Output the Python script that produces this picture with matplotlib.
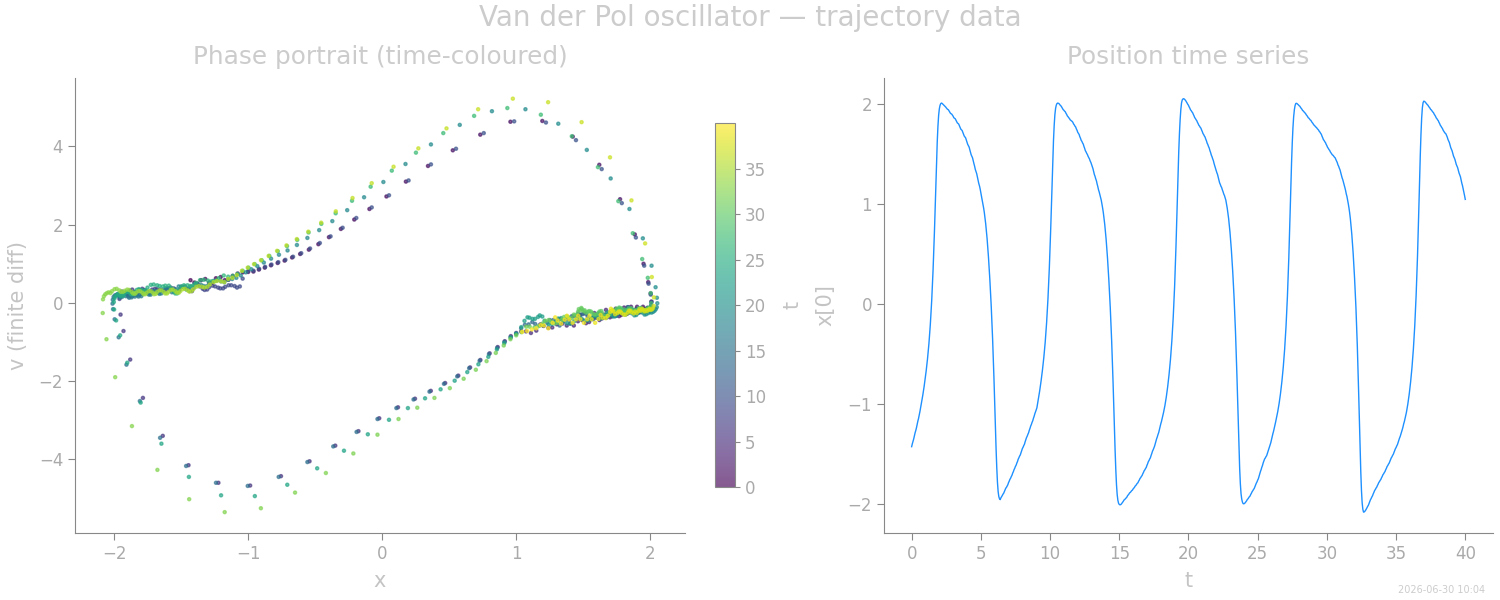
import numpy as np
import matplotlib.pyplot as plt

# x(t) read off the time-series panel, sampled every 0.05 from t=0 to t=40
# slow parts (s_ / d_ / u_) and fast jumps (r_ / f_) kept as separate lists
s_start = [-1.430, -1.401, -1.378, -1.352, -1.320, -1.291, -1.268, -1.240, -1.205, -1.174,
           -1.147, -1.115, -1.078, -1.040]
r_1 = [-1.000, -0.961, -0.920, -0.876, -0.830, -0.780, -0.728, -0.672, -0.612, -0.547,
       -0.476, -0.397, -0.308, -0.208, -0.095, 0.032, 0.177, 0.342, 0.527, 0.732,
       0.957, 1.195, 1.422, 1.620, 1.775, 1.885, 1.950, 1.985, 2.003]
d_1 = [2.009, 2.006, 1.999, 1.991, 1.984, 1.978, 1.971, 1.962, 1.953, 1.946,
       1.943, 1.932, 1.922, 1.908, 1.902, 1.898, 1.887, 1.877, 1.862, 1.857,
       1.852, 1.839, 1.827, 1.811, 1.805, 1.799, 1.783, 1.768, 1.749, 1.742,
       1.734, 1.716, 1.700, 1.679, 1.670, 1.661, 1.640, 1.621, 1.596, 1.583,
       1.570, 1.544, 1.521, 1.492, 1.477, 1.461, 1.430, 1.403, 1.377, 1.345,
       1.324, 1.303, 1.269, 1.240, 1.205, 1.181, 1.150, 1.110, 1.073, 1.037]
f_1 = [1.000, 0.960, 0.915, 0.862, 0.802, 0.733, 0.656, 0.568, 0.470, 0.363,
       0.245, 0.118, -0.022, -0.177, -0.350, -0.542, -0.755, -0.985, -1.222, -1.445,
       -1.637, -1.785, -1.880, -1.930, -1.952, -1.960]
u_1 = [-1.942, -1.931, -1.919, -1.905, -1.896, -1.880, -1.865, -1.846, -1.837, -1.823,
       -1.811, -1.790, -1.775, -1.757, -1.746, -1.729, -1.716, -1.695, -1.680, -1.660,
       -1.646, -1.627, -1.615, -1.594, -1.578, -1.555, -1.541, -1.524, -1.513, -1.491,
       -1.472, -1.449, -1.436, -1.419, -1.406, -1.381, -1.361, -1.339, -1.325, -1.306,
       -1.291, -1.266, -1.247, -1.224, -1.208, -1.187, -1.171, -1.146, -1.126, -1.101,
       -1.083, -1.062, -1.041]
r_2 = [-1.000, -0.960, -0.918, -0.873, -0.826, -0.775, -0.722, -0.665, -0.604, -0.538,
       -0.465, -0.385, -0.295, -0.193, -0.078, 0.051, 0.197, 0.364, 0.551, 0.758,
       0.985, 1.222, 1.446, 1.638, 1.788, 1.893, 1.955, 1.988, 2.004]
d_2 = [2.009, 2.007, 2.003, 1.994, 1.985, 1.979, 1.967, 1.957, 1.943, 1.937,
       1.928, 1.922, 1.907, 1.896, 1.880, 1.873, 1.862, 1.855, 1.842, 1.836,
       1.831, 1.825, 1.816, 1.800, 1.791, 1.778, 1.770, 1.751, 1.737, 1.717,
       1.706, 1.695, 1.673, 1.657, 1.636, 1.626, 1.610, 1.598, 1.575, 1.556,
       1.533, 1.521, 1.505, 1.494, 1.476, 1.463, 1.449, 1.429, 1.415, 1.395,
       1.372, 1.353, 1.324, 1.295, 1.276, 1.251, 1.232, 1.200, 1.174, 1.142,
       1.120, 1.093, 1.065, 1.037]
f_2 = [1.000, 0.958, 0.912, 0.858, 0.797, 0.727, 0.649, 0.560, 0.461, 0.353,
       0.234, 0.106, -0.035, -0.191, -0.365, -0.558, -0.772, -1.003, -1.240, -1.463,
       -1.657, -1.808, -1.908, -1.966, -1.996, -2.008]
u_2 = [-2.012, -2.010, -2.004, -1.995, -1.985, -1.975, -1.963, -1.958, -1.950, -1.941,
       -1.935, -1.921, -1.912, -1.904, -1.892, -1.888, -1.879, -1.870, -1.865, -1.853,
       -1.845, -1.837, -1.824, -1.818, -1.808, -1.797, -1.791, -1.775, -1.764, -1.748,
       -1.740, -1.727, -1.719, -1.701, -1.688, -1.671, -1.662, -1.648, -1.638, -1.617,
       -1.601, -1.580, -1.569, -1.553, -1.541, -1.518, -1.499, -1.476, -1.461, -1.442,
       -1.426, -1.400, -1.378, -1.351, -1.332, -1.308, -1.289, -1.259, -1.233, -1.202,
       -1.178, -1.149, -1.119, -1.088]
r_3 = [-1.055, -1.018, -0.977, -0.932, -0.883, -0.829, -0.770, -0.706, -0.636, -0.558,
       -0.470, -0.372, -0.261, -0.135, 0.009, 0.174, 0.364, 0.579, 0.819, 1.069,
       1.314, 1.527, 1.705, 1.845, 1.945, 2.010, 2.040, 2.050]
d_3 = [2.053, 2.049, 2.042, 2.033, 2.022, 2.010, 1.997, 1.987, 1.971, 1.958,
       1.941, 1.933, 1.921, 1.913, 1.896, 1.882, 1.864, 1.855, 1.842, 1.833,
       1.816, 1.803, 1.787, 1.779, 1.766, 1.758, 1.739, 1.724, 1.704, 1.694,
       1.679, 1.669, 1.648, 1.631, 1.608, 1.594, 1.574, 1.559, 1.534, 1.514,
       1.489, 1.473, 1.451, 1.433, 1.404, 1.380, 1.352, 1.335, 1.313, 1.295,
       1.266, 1.241, 1.211, 1.195, 1.176, 1.163, 1.140, 1.122, 1.099, 1.084,
       1.062, 1.038]
f_3 = [1.000, 0.959, 0.911, 0.856, 0.792, 0.718, 0.635, 0.541, 0.436, 0.320,
       0.192, 0.051, -0.107, -0.285, -0.485, -0.708, -0.950, -1.202, -1.442, -1.647,
       -1.802, -1.902, -1.955, -1.985, -2.000]
u_3 = [-2.002, -1.998, -1.991, -1.982, -1.972, -1.959, -1.952, -1.942, -1.931, -1.924,
       -1.908, -1.896, -1.880, -1.871, -1.858, -1.849, -1.831, -1.816, -1.796, -1.783,
       -1.765, -1.751, -1.726, -1.705, -1.679, -1.660, -1.636, -1.618, -1.592, -1.574,
       -1.554, -1.544, -1.530, -1.520, -1.498, -1.479, -1.453, -1.434, -1.410, -1.390,
       -1.359, -1.332, -1.300, -1.275, -1.245, -1.219, -1.182, -1.149]
r_4 = [-1.115, -1.080, -1.041, -0.998, -0.951, -0.899, -0.842, -0.779, -0.710, -0.634,
       -0.549, -0.454, -0.347, -0.225, -0.086, 0.072, 0.252, 0.456, 0.686, 0.934,
       1.184, 1.415, 1.610, 1.762, 1.870, 1.940, 1.982, 2.004]
d_4 = [2.007, 2.003, 1.997, 1.990, 1.982, 1.977, 1.965, 1.956, 1.947, 1.934,
       1.930, 1.921, 1.912, 1.907, 1.894, 1.885, 1.876, 1.863, 1.858, 1.849,
       1.840, 1.835, 1.822, 1.813, 1.804, 1.791, 1.786, 1.777, 1.769, 1.765,
       1.754, 1.747, 1.739, 1.726, 1.719, 1.706, 1.697, 1.677, 1.662, 1.643,
       1.635, 1.622, 1.613, 1.596, 1.583, 1.566, 1.557, 1.544, 1.536, 1.521,
       1.511, 1.502, 1.490, 1.486, 1.477, 1.467, 1.461, 1.444, 1.430, 1.414,
       1.391, 1.377, 1.357, 1.341, 1.314, 1.290, 1.261, 1.242, 1.217, 1.196,
       1.164, 1.136, 1.101, 1.075, 1.040]
f_4 = [1.000, 0.957, 0.907, 0.848, 0.779, 0.699, 0.608, 0.505, 0.390, 0.262,
       0.122, -0.035, -0.215, -0.420, -0.650, -0.905, -1.175, -1.440, -1.677, -1.867,
       -1.992, -2.057, -2.085]
u_4 = [-2.083, -2.076, -2.066, -2.054, -2.041, -2.027, -2.016, -1.997, -1.981, -1.961,
       -1.949, -1.933, -1.921, -1.902, -1.887, -1.869, -1.859, -1.845, -1.836, -1.819,
       -1.806, -1.789, -1.780, -1.767, -1.758, -1.741, -1.728, -1.711, -1.702, -1.689,
       -1.679, -1.661, -1.647, -1.629, -1.619, -1.605, -1.595, -1.577, -1.562, -1.543,
       -1.532, -1.517, -1.506, -1.487, -1.471, -1.451, -1.439, -1.422, -1.409, -1.387,
       -1.368, -1.344, -1.327, -1.305, -1.286, -1.258, -1.233, -1.202, -1.178, -1.149,
       -1.117]
r_5 = [-1.085, -1.046, -1.003, -0.956, -0.904, -0.847, -0.784, -0.714, -0.637, -0.551,
       -0.455, -0.346, -0.221, -0.078, 0.085, 0.270, 0.480, 0.716, 0.975, 1.238,
       1.488, 1.700, 1.860, 1.962, 2.012, 2.028]
d_5 = [2.026, 2.020, 2.012, 2.003, 1.994, 1.988, 1.976, 1.967, 1.958, 1.945,
       1.940, 1.930, 1.920, 1.914, 1.899, 1.888, 1.877, 1.861, 1.853, 1.841,
       1.833, 1.816, 1.803, 1.786, 1.777, 1.764, 1.755, 1.738, 1.726, 1.716,
       1.707, 1.701, 1.684, 1.668, 1.645, 1.630, 1.614, 1.589, 1.563, 1.547,
       1.530, 1.505, 1.479, 1.463, 1.446, 1.421, 1.395, 1.379, 1.362, 1.336,
       1.309, 1.291, 1.272, 1.240, 1.207, 1.182, 1.150, 1.117, 1.082, 1.045]

x_pos = np.array(s_start + r_1 + d_1 + f_1 + u_1 + r_2 + d_2 + f_2 + u_2 + r_3 + d_3
                 + f_3 + u_3 + r_4 + d_4 + f_4 + u_4 + r_5 + d_5)
t = np.linspace(0, 40, len(x_pos))
v = np.gradient(x_pos, t)   # finite-difference velocity

title_c = '#cccccc'
label_c = '#c4c4c4'
tick_c = '#aaaaaa'
spine_c = '#888888'

fig = plt.figure(figsize=(15, 6), dpi=100)
ax1 = fig.add_axes([0.05, 0.112, 0.4067, 0.758])
ax2 = fig.add_axes([0.5893, 0.112, 0.4060, 0.758])
cax = fig.add_axes([0.4767, 0.1883, 0.0133, 0.6067])

sc = ax1.scatter(x_pos, v, c=t, cmap='viridis', s=5, alpha=0.65)
ax1.set_title('Phase portrait (time-coloured)', fontsize=17.8, color=title_c, pad=10)
ax1.set_xlabel('x', fontsize=15, color=label_c, labelpad=6)
ax1.set_ylabel('v (finite diff)', fontsize=15, color=label_c, labelpad=8)

cb = fig.colorbar(sc, cax=cax)
cb.set_label('t', fontsize=15, color=label_c, labelpad=12)
cb.outline.set_edgecolor(spine_c)
cb.ax.tick_params(colors=spine_c, labelcolor=tick_c, labelsize=12)
cb.set_ticks([0, 5, 10, 15, 20, 25, 30, 35])

ax2.plot(t, x_pos, color='#1e90ff', lw=1)
ax2.set_title('Position time series', fontsize=17.8, color=title_c, pad=10)
ax2.set_xlabel('t', fontsize=15, color=label_c, labelpad=6)
ax2.set_ylabel('x[0]', fontsize=15, color=label_c, labelpad=9)
ax2.set_xticks([0, 5, 10, 15, 20, 25, 30, 35, 40])
ax2.set_yticks([-2, -1, 0, 1, 2])

for ax in (ax1, ax2):
    ax.spines['top'].set_visible(False)
    ax.spines['right'].set_visible(False)
    ax.spines['left'].set_color(spine_c)
    ax.spines['bottom'].set_color(spine_c)
    ax.tick_params(colors=spine_c, labelcolor=tick_c, labelsize=12, length=5)

fig.suptitle('Van der Pol oscillator — trajectory data', fontsize=20, color=title_c, y=0.994)
fig.text(0.99, 0.008, '2026-06-30 10:04', fontsize=7, color='#cccccc', ha='right', va='bottom')

fig.savefig('out.png', dpi=100)
